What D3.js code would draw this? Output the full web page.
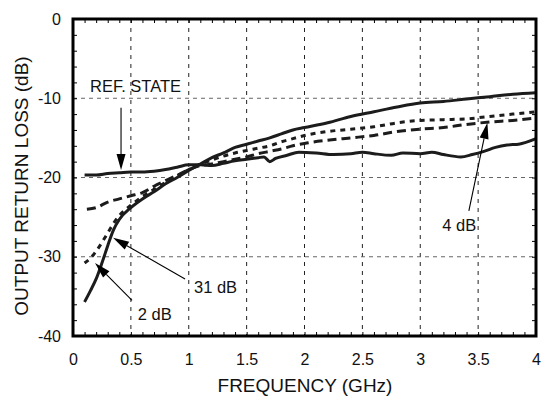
<!DOCTYPE html>
<html lang="en">
<head>
  <meta charset="UTF-8">
  <script src="https://d3js.org/d3.v7.min.js" charset="utf-8"></script>
  <title>Output return loss</title>
  <style>
    body { margin: 0; background: #fff; }
    text { font-family: "Liberation Sans", Arial, sans-serif; fill: #111; }
  </style>
</head>
<body>
  <script type="text/javascript">

    // ---- data (GHz, dB) ----
    var refFreq = [0.1, 0.2, 0.3, 0.4, 0.5, 0.6, 0.7, 0.8, 0.9, 1.0, 1.1, 1.2, 1.3, 1.4, 1.5, 1.6, 1.65, 1.7, 1.75, 1.85, 1.95, 2.1, 2.25, 2.4, 2.5, 2.6, 2.75, 2.85, 3.0, 3.1, 3.2, 3.35, 3.45, 3.55, 3.65, 3.75, 3.85, 4.0];
    var refLoss = [-19.7, -19.7, -19.5, -19.4, -19.3, -19.3, -19.2, -19.0, -18.7, -18.4, -18.4, -18.5, -18.2, -17.9, -17.7, -17.5, -17.4, -18.0, -17.6, -17.2, -16.8, -16.9, -17.1, -17.0, -16.8, -17.0, -17.2, -16.9, -17.0, -16.8, -17.1, -17.4, -17.1, -16.7, -16.2, -15.9, -15.8, -15.1];

    var db2Freq = [0.1, 0.15, 0.2, 0.25, 0.3, 0.35, 0.4, 0.5, 0.6, 0.7, 0.8, 0.9, 1.0, 1.1, 1.2, 1.3, 1.4, 1.5, 1.6, 1.7, 1.8, 1.9, 2.0, 2.2, 2.4, 2.6, 2.8, 3.0, 3.2, 3.4, 3.6, 3.8, 4.0];
    var db2Loss = [-35.7, -34.3, -32.8, -30.8, -28.6, -26.6, -25.3, -23.8, -22.7, -21.8, -20.8, -20.0, -19.1, -18.3, -17.5, -16.9, -16.2, -15.8, -15.4, -15.0, -14.5, -14.0, -13.7, -13.1, -12.3, -11.7, -11.1, -10.6, -10.4, -10.1, -9.8, -9.5, -9.3];

    var db31Freq = [0.1, 0.15, 0.2, 0.25, 0.3, 0.35, 0.4, 0.5, 0.6, 0.7, 0.8, 0.9, 1.0, 1.1, 1.2, 1.3, 1.4, 1.5, 1.6, 1.7, 1.8, 1.9, 2.0, 2.2, 2.4, 2.6, 2.8, 3.0, 3.2, 3.4, 3.6, 3.8, 4.0];
    var db31Loss = [-30.8, -30.2, -29.3, -28.2, -27.0, -25.8, -24.8, -23.5, -22.4, -21.5, -20.6, -19.8, -19.0, -18.3, -17.8, -17.3, -16.9, -16.6, -16.3, -16.0, -15.5, -15.1, -14.7, -14.2, -13.9, -13.6, -13.1, -12.8, -12.7, -12.6, -12.3, -12.0, -11.7];

    var db4Freq = [0.12, 0.2, 0.3, 0.4, 0.5, 0.6, 0.7, 0.8, 0.9, 1.0, 1.1, 1.2, 1.3, 1.4, 1.5, 1.6, 1.7, 1.8, 1.9, 2.0, 2.2, 2.4, 2.6, 2.8, 3.0, 3.2, 3.4, 3.6, 3.8, 4.0];
    var db4Loss = [-24.0, -23.8, -23.1, -22.7, -22.3, -21.9, -21.1, -20.4, -19.7, -19.0, -18.5, -18.3, -18.0, -17.7, -17.4, -17.0, -16.7, -16.4, -16.0, -15.7, -15.3, -15.0, -14.7, -14.2, -13.9, -13.7, -13.3, -13.0, -12.8, -12.5];

    var xTicks = [0, 0.5, 1, 1.5, 2, 2.5, 3, 3.5, 4];
    var yTicks = [0, -10, -20, -30, -40];

    // annotation labels and arrows (data units)
    var labelText = ["REF. STATE", "31 dB", "2 dB", "4 dB"];
    var labelX = [0.147, 1.045, 0.56, 3.19];
    var labelY = [-9.2, -34.6, -38.0, -26.75];
    var arrowFrom = [[0.415, -11.2], [0.968, -32.8], [0.51, -35.5], [3.42, -24.2]];
    var arrowTo = [[0.415, -19.05], [0.346, -27.6], [0.19, -30.8], [3.58, -13.1]];

    // ---- layout ----
    var outer_w = 546, outer_h = 398;
    var margin = { top: 19, right: 10, bottom: 62, left: 73 };
    var w = outer_w - margin.left - margin.right;
    var h = outer_h - margin.top - margin.bottom;

    var svg = d3.select("body").append("svg")
      .attr("width", outer_w)
      .attr("height", outer_h);

    var xScale = d3.scaleLinear().domain([0, 4]).range([margin.left, margin.left + w]);
    var yScale = d3.scaleLinear().domain([-40, 0]).range([margin.top + h, margin.top]);

    // grid
    svg.append("g").selectAll("line")
      .data(xTicks.slice(1, -1))
      .enter().append("line")
      .attr("x1", function (d) { return xScale(d); })
      .attr("x2", function (d) { return xScale(d); })
      .attr("y1", yScale(0)).attr("y2", yScale(-40))
      .attr("stroke", "#222").attr("stroke-width", 1)
      .attr("stroke-dasharray", "4,5");
    svg.append("g").selectAll("line")
      .data(yTicks.slice(1, -1))
      .enter().append("line")
      .attr("x1", xScale(0)).attr("x2", xScale(4))
      .attr("y1", function (d) { return yScale(d); })
      .attr("y2", function (d) { return yScale(d); })
      .attr("stroke", "#666").attr("stroke-width", 1)
      .attr("stroke-dasharray", "4,4");

    // minor ticks, inside the frame
    var xMinor = d3.range(1, 40).map(function (i) { return i / 10; });
    var yMinor = d3.range(-38, 0, 2);
    svg.append("g").attr("transform", "translate(0," + yScale(-40) + ")")
      .call(d3.axisBottom(xScale).tickValues(xMinor).tickSize(-4).tickFormat(""))
      .call(function (g) { g.select(".domain").remove(); });
    svg.append("g").attr("transform", "translate(0," + yScale(0) + ")")
      .call(d3.axisTop(xScale).tickValues(xMinor).tickSize(-4).tickFormat(""))
      .call(function (g) { g.select(".domain").remove(); });
    svg.append("g").attr("transform", "translate(" + xScale(0) + ",0)")
      .call(d3.axisLeft(yScale).tickValues(yMinor).tickSize(-4).tickFormat(""))
      .call(function (g) { g.select(".domain").remove(); });
    svg.append("g").attr("transform", "translate(" + xScale(4) + ",0)")
      .call(d3.axisRight(yScale).tickValues(yMinor).tickSize(-4).tickFormat(""))
      .call(function (g) { g.select(".domain").remove(); });

    // tick labels
    svg.append("g").attr("transform", "translate(0," + yScale(-40) + ")")
      .call(d3.axisBottom(xScale).tickValues(xTicks).tickSize(0).tickPadding(18)
        .tickFormat(function (d) { return String(d); }))
      .call(function (g) { g.select(".domain").remove(); })
      .selectAll("text").attr("font-size", 16).attr("font-family", null).attr("fill", null);
    svg.append("g").attr("transform", "translate(" + xScale(0) + ",0)")
      .call(d3.axisLeft(yScale).tickValues(yTicks).tickSize(0).tickPadding(12)
        .tickFormat(function (d) { return String(d); }))
      .call(function (g) { g.select(".domain").remove(); })
      .selectAll("text").attr("font-size", 16).attr("font-family", null).attr("fill", null);

    // curves
    var line = d3.line()
      .x(function (d) { return xScale(d[0]); })
      .y(function (d) { return yScale(d[1]); })
      .curve(d3.curveMonotoneX);

    var curves = [
      { f: refFreq, v: refLoss, dash: null },
      { f: db2Freq, v: db2Loss, dash: null },
      { f: db31Freq, v: db31Loss, dash: "5,5" },
      { f: db4Freq, v: db4Loss, dash: "9,5" }
    ];
    curves.forEach(function (c) {
      svg.append("path")
        .datum(d3.zip(c.f, c.v))
        .attr("d", line)
        .attr("fill", "none")
        .attr("stroke", "#1c1c1c")
        .attr("stroke-width", 3)
        .attr("stroke-linejoin", "round")
        .attr("stroke-dasharray", c.dash);
    });

    // frame
    svg.append("rect")
      .attr("x", xScale(0)).attr("y", yScale(0))
      .attr("width", xScale(4) - xScale(0))
      .attr("height", yScale(-40) - yScale(0))
      .attr("fill", "none").attr("stroke", "#000").attr("stroke-width", 3);

    // annotations
    svg.append("g").selectAll("text")
      .data(labelText)
      .enter().append("text")
      .attr("x", function (d, i) { return xScale(labelX[i]); })
      .attr("y", function (d, i) { return yScale(labelY[i]); })
      .attr("font-size", 16.5)
      .text(function (d) { return d; });

    arrowFrom.forEach(function (p, i) {
      var x1 = xScale(p[0]), y1 = yScale(p[1]);
      var x2 = xScale(arrowTo[i][0]), y2 = yScale(arrowTo[i][1]);
      var ang = Math.atan2(y2 - y1, x2 - x1);
      var len = 16, half = 4.5;
      var bx = x2 - len * Math.cos(ang), by = y2 - len * Math.sin(ang);
      svg.append("line")
        .attr("x1", x1).attr("y1", y1).attr("x2", bx).attr("y2", by)
        .attr("stroke", "#000").attr("stroke-width", 1.1);
      svg.append("polygon")
        .attr("points", [
          [x2, y2],
          [bx + half * Math.sin(ang), by - half * Math.cos(ang)],
          [bx - half * Math.sin(ang), by + half * Math.cos(ang)]
        ].map(function (q) { return q.join(","); }).join(" "))
        .attr("fill", "#000");
    });

    // axis titles
    svg.append("text")
      .attr("x", 305).attr("y", 392)
      .attr("text-anchor", "middle")
      .attr("font-size", 19)
      .text("FREQUENCY (GHz)");
    svg.append("text")
      .attr("transform", "translate(28,186) rotate(-90)")
      .attr("text-anchor", "middle")
      .attr("font-size", 19)
      .text("OUTPUT RETURN LOSS (dB)");

  </script>
</body>
</html>
